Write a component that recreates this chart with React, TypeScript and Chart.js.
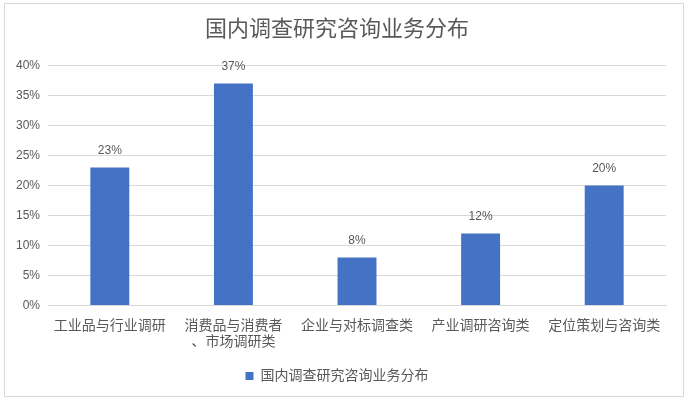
import React, { useEffect, useRef } from "react";
import { Chart, registerables } from "chart.js";

Chart.register(...registerables);

const categories: (string | string[])[] = [
  "工业品与行业调研",
  ["消费品与消费者", "、市场调研类"],
  "企业与对标调查类",
  "产业调研咨询类",
  "定位策划与咨询类",
];
const values = [23, 37, 8, 12, 20];
const seriesName = "国内调查研究咨询业务分布";
const titleText = "国内调查研究咨询业务分布";

const FONT = "'Liberation Sans', 'Noto Sans CJK SC', sans-serif";
const GREY = "#595959";

const labelPlugin = {
  id: "barLabels",
  afterDatasetsDraw(chart: any) {
    const ctx = chart.ctx;
    const meta = chart.getDatasetMeta(0);
    ctx.save();
    ctx.fillStyle = GREY;
    ctx.font = `12px ${FONT}`;
    ctx.textAlign = "center";
    ctx.textBaseline = "alphabetic";
    meta.data.forEach((el: any, i: number) => {
      ctx.fillText(values[i] + "%", el.x, el.y - 13);
    });
    ctx.restore();
  },
};

export default function App() {
  const ref = useRef<HTMLCanvasElement>(null);
  useEffect(() => {
    document.body.style.margin = "0";
    const chart = new Chart(ref.current!, {
      type: "bar",
      data: {
        labels: categories,
        datasets: [
          {
            label: seriesName,
            data: values,
            backgroundColor: "#4472C4",
            barPercentage: 0.63,
            categoryPercentage: 0.5,
          },
        ],
      },
      options: {
        animation: false,
        responsive: false,
        layout: { padding: { left: 3, right: 17, top: 8, bottom: 3 } },
        plugins: {
          title: {
            display: true,
            text: titleText,
            color: GREY,
            font: { size: 22, family: FONT, weight: "normal" },
            padding: { top: 5, bottom: 22 },
          },
          legend: {
            position: "bottom",
            labels: {
              color: GREY,
              font: { size: 14, family: FONT },
              boxWidth: 8,
              boxHeight: 8,
              padding: 14,
            },
          },
          tooltip: { enabled: false },
        },
        scales: {
          x: {
            grid: { display: false },
            border: { color: "#D9D9D9" },
            ticks: {
              color: GREY,
              font: { size: 14, family: FONT },
              maxRotation: 0,
              autoSkip: false,
              padding: 4,
            },
          },
          y: {
            min: 0,
            max: 40,
            grid: { color: "#D9D9D9", drawTicks: false },
            border: { display: false },
            ticks: {
              stepSize: 5,
              color: GREY,
              font: { size: 12, family: FONT },
              padding: 8,
              callback: (v: any) => v + "%",
            },
          },
        },
      },
      plugins: [labelPlugin],
    });
    return () => chart.destroy();
  }, []);
  return (
    <div style={{ position: "absolute", left: 0, top: 0, width: 688, height: 404, background: "#fff" }}>
      <div
        style={{
          position: "absolute",
          left: 4,
          top: 3,
          width: 678,
          height: 392,
          border: "1px solid #D9D9D9",
        }}
      >
        <canvas ref={ref} width={678} height={392} style={{ display: "block" }} />
      </div>
    </div>
  );
}
